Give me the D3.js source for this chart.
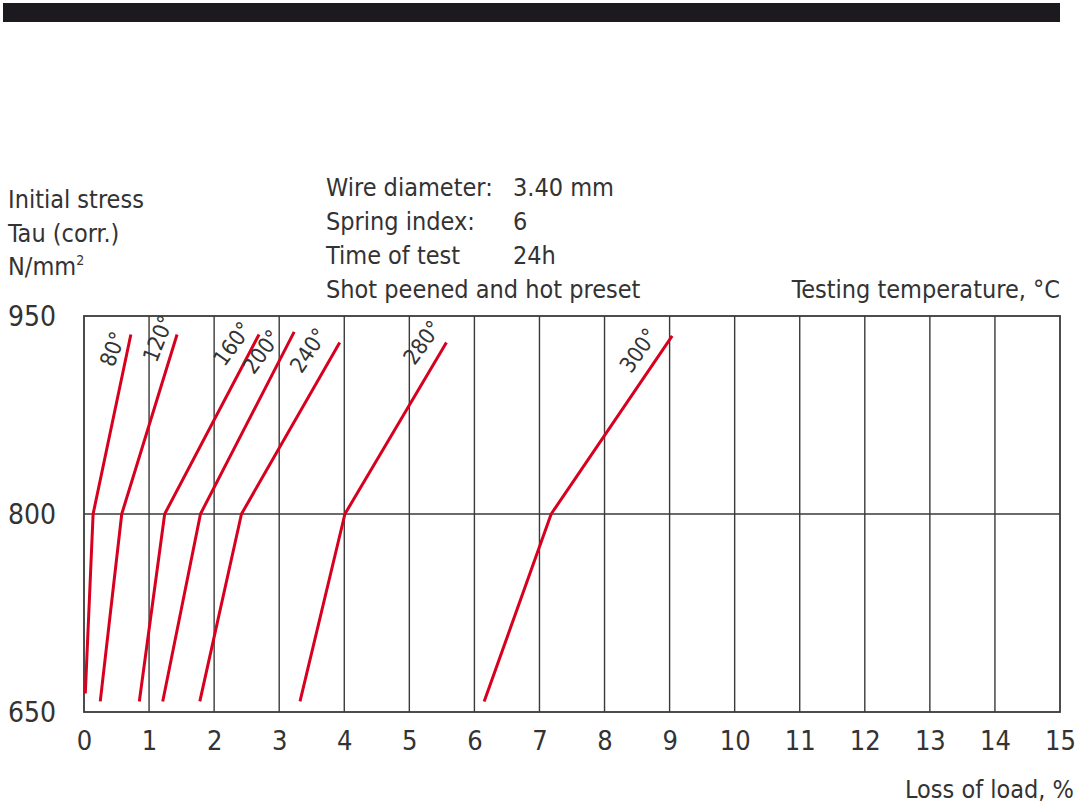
<!DOCTYPE html>
<html>
<head>
<meta charset="utf-8">
<script src="https://cdn.jsdelivr.net/npm/d3@7"></script>
<style>
  html, body { margin: 0; padding: 0; background: #fff; }
  svg { display: block; }
  text { font-family: "DejaVu Sans Condensed", "Liberation Sans Narrow", "Roboto", sans-serif; fill: #333; }
</style>
</head>
<body>
<svg id="chart" width="1077" height="806"></svg>
<script>
// ---- data ----
const temperatures = ["80°", "120°", "160°", "200°", "240°", "280°", "300°"];
const lossAt650 = [0.02, 0.25, 0.85, 1.21, 1.78, 3.32, 6.15];
const stressAtStart = [664, 658, 658, 658, 658, 658, 658];
const lossAt800 = [0.14, 0.58, 1.24, 1.79, 2.42, 4.01, 7.18];
const lossAtTop = [0.72, 1.43, 2.69, 3.23, 3.93, 5.57, 9.04];
const stressAtTop = [936, 936, 936, 938, 930, 930, 935];
const xTicks = [0,1,2,3,4,5,6,7,8,9,10,11,12,13,14,15];
const yTicks = [650, 800, 950];
const infoLabels = ["Wire diameter:", "Spring index:", "Time of test", "Shot peened and hot preset"];
const infoValues = ["3.40 mm", "6", "24h", ""];
const yTitle = ["Initial stress", "Tau (corr.)", "N/mm"];

const svg = d3.select("#chart");
const x = d3.scaleLinear().domain([0, 15]).range([84, 1060]);
const y = d3.scaleLinear().domain([650, 950]).range([712, 316]);

// top black bar
svg.append("rect").attr("x", 3).attr("y", 3).attr("width", 1057).attr("height", 19).attr("fill", "#1c1a1f");

// grid
const grid = svg.append("g");
grid.selectAll("line.v").data(xTicks.slice(1, -1)).join("line")
  .attr("x1", d => x(d)).attr("x2", d => x(d)).attr("y1", y(950)).attr("y2", y(650))
  .attr("stroke", "#3a3a3a").attr("stroke-width", 1.4);
grid.selectAll("line.h").data([800]).join("line")
  .attr("x1", x(0)).attr("x2", x(15)).attr("y1", d => y(d)).attr("y2", d => y(d))
  .attr("stroke", "#3a3a3a").attr("stroke-width", 1.6);
grid.append("rect").attr("x", x(0)).attr("y", y(950)).attr("width", x(15) - x(0)).attr("height", y(650) - y(950))
  .attr("fill", "none").attr("stroke", "#3a3a3a").attr("stroke-width", 1.8);

// x axis labels
const xAxis = d3.axisBottom(x).tickValues(xTicks).tickSize(0).tickPadding(0).tickFormat(d3.format("d"));
const gx = svg.append("g").attr("transform", `translate(0, ${y(650) + 38})`).call(xAxis);
gx.select(".domain").remove();
gx.selectAll("text").attr("font-size", 27).attr("font-family", null).attr("fill", "#333").attr("dy", 0);

// y labels
svg.selectAll("text.ytick").data(yTicks).join("text")
  .attr("class", "ytick").attr("x", 8).attr("y", d => y(d) + 10)
  .attr("font-size", 28).text(d => d);

// lines
const line = d3.line().x(d => x(d[0])).y(d => y(d[1]));
temperatures.forEach((t, i) => {
  const pts = [[lossAt650[i], stressAtStart[i]], [lossAt800[i], 800], [lossAtTop[i], stressAtTop[i]]];
  svg.append("path").datum(pts).attr("d", line)
    .attr("fill", "none").attr("stroke", "#d7001f").attr("stroke-width", 3)
    .attr("stroke-linejoin", "round");
});

// temperature labels
const labelPos = [[0.44, 925, 70], [1.14, 933, 68], [2.28, 929, 54], [2.73, 923, 54], [3.45, 924, 56], [5.20, 930, 54], [8.52, 924, 55]];
temperatures.forEach((t, i) => {
  const p = labelPos[i];
  svg.append("text")
    .attr("transform", `translate(${x(p[0])},${y(p[1])}) rotate(${-p[2]})`)
    .attr("text-anchor", "middle").attr("dy", "0.35em")
    .attr("font-size", 22).text(t);
});

// y title
yTitle.forEach((t, i) => {
  const tx = svg.append("text").attr("x", 8).attr("y", 208 + i * 33.5).attr("font-size", 25).text(t);
  if (i === 2) tx.append("tspan").attr("font-size", 14).attr("dy", -10).text("2");
});

// info block
infoLabels.forEach((t, i) => {
  svg.append("text").attr("x", 326).attr("y", 196 + i * 34).attr("font-size", 25).text(t);
  svg.append("text").attr("x", 513).attr("y", 196 + i * 34).attr("font-size", 25).text(infoValues[i]);
});

svg.append("text").attr("x", 1060).attr("y", 298).attr("text-anchor", "end").attr("font-size", 25).text("Testing temperature, °C");
svg.append("text").attr("x", 1074).attr("y", 798).attr("text-anchor", "end").attr("font-size", 25).text("Loss of load, %");
</script>
</body>
</html>
